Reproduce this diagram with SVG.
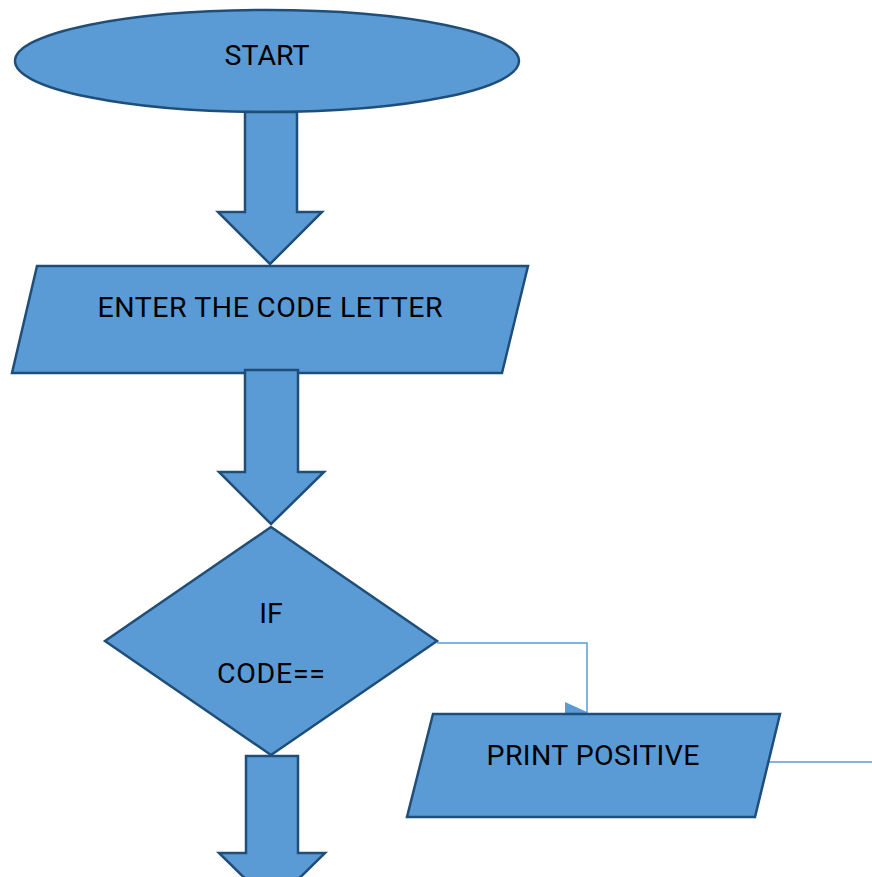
<svg xmlns="http://www.w3.org/2000/svg" width="872" height="877" viewBox="0 0 872 877">
<style>
.s{fill:#5B9BD5;stroke:#1F4E79;stroke-width:2.5;stroke-linejoin:miter}
.t{font-family:Roboto,"Liberation Sans",sans-serif;font-size:28.5px;fill:#000;text-anchor:middle}
.c{fill:none;stroke:#5B9BD5;stroke-width:1.5}
</style>
<rect width="872" height="877" fill="#fff"/>
<g id="start">
<ellipse class="s" cx="267" cy="61" rx="252" ry="51"/>
<text class="t" x="267" y="65" textLength="85" lengthAdjust="spacing">START</text>
</g>
<g id="arrow1"><polygon class="s" points="245,112 297,112 297,212 322,212 270,264 218,212 245,212"/></g>
<g id="input">
<polygon class="s" points="37,266 528,266 502,373 12,373"/>
<text class="t" x="270" y="317" textLength="345" lengthAdjust="spacing">ENTER THE CODE LETTER</text>
</g>
<g id="arrow2"><polygon class="s" points="245,370 298,370 298,472 324,472 271,524 219,472 245,472"/></g>
<g id="decision">
<polygon class="s" points="271,527 437,641 271,755 105,641"/>
<text class="t" x="271" y="623">IF</text>
<text class="t" x="271" y="683" textLength="108" lengthAdjust="spacing">CODE==</text>
</g>
<g id="arrow3"><polygon class="s" points="246,756 298,756 298,853 325,853 272,905 219,853 246,853"/></g>
<g id="connectors">
<polyline class="c" points="437,643 587,643 587,714"/>
<polygon points="565,702 587,712 587,714 565,714" fill="#5B9BD5"/>
<line class="c" x1="767" y1="762" x2="872" y2="762"/>
</g>
<g id="print">
<polygon class="s" points="433,714 780,714 755,817 407,817"/>
<text class="t" x="593" y="765" textLength="213" lengthAdjust="spacing">PRINT POSITIVE</text>
</g>
</svg>
